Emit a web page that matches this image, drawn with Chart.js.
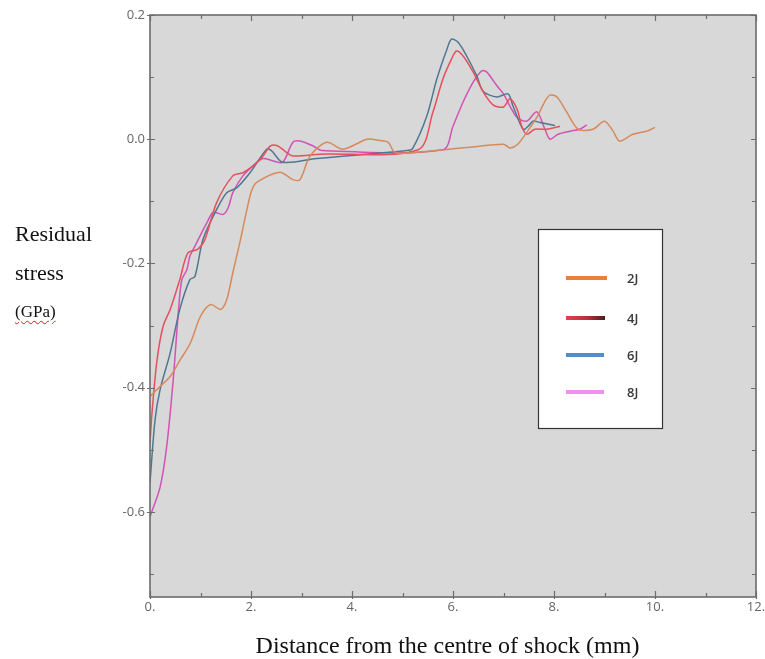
<!DOCTYPE html>
<html>
<head>
<meta charset="utf-8">
<script src="https://cdn.jsdelivr.net/npm/chart.js@4.4.0/dist/chart.umd.min.js"></script>
<style>
  html, body { margin: 0; padding: 0; background: #ffffff; }
  #wrap { position: relative; width: 765px; height: 659px; }
  #wrap canvas { position: absolute; left: 0; top: 0; }
  .ytitle { position: absolute; left: 15px; font-family: "Liberation Serif", "Times New Roman", serif; color: #111; white-space: nowrap; line-height: 1; }
  .xtitle { position: absolute; left: 0; width: 895px; text-align: center; top: 633px; font-family: "Liberation Serif", "Times New Roman", serif; font-size: 24px; color: #111; white-space: nowrap; line-height: 1; }
  .gpa { text-decoration: underline wavy #d02020; text-decoration-thickness: 1px; text-underline-offset: 3px; }
</style>
</head>
<body>
<div id="wrap">
  <canvas id="chart" width="765" height="659"></canvas>
  <div class="ytitle" style="top:223px;font-size:22px;">Residual</div>
  <div class="ytitle" style="top:262px;font-size:22px;">stress</div>
  <div class="ytitle" style="top:303px;font-size:17px;"><span class="gpa">(GPa)</span></div>
  <div class="xtitle">Distance from the centre of shock (mm)</div>
</div>
<script>
// ---- data ----
const seriesLabels = ["2J", "4J", "6J", "8J"];

const x2J = [0, 0.2, 0.4, 0.6, 0.8, 1.0, 1.2, 1.4, 1.52, 1.64, 1.78, 1.92, 2.02, 2.14, 2.57, 2.83, 2.97, 3.17, 3.5, 3.82, 4.3, 4.55, 4.72, 4.82, 4.95, 6.34, 7.0, 7.13, 7.27, 7.46, 7.66, 7.82, 7.92, 8.06, 8.25, 8.48, 8.77, 9.0, 9.17, 9.3, 9.56, 9.84, 10.0];
const y2J = [-0.414, -0.398, -0.382, -0.355, -0.328, -0.285, -0.266, -0.274, -0.258, -0.215, -0.166, -0.113, -0.081, -0.068, -0.053, -0.065, -0.065, -0.027, -0.005, -0.016, 0.0, -0.002, -0.005, -0.019, -0.023, -0.013, -0.008, -0.014, -0.009, 0.011, 0.035, 0.061, 0.071, 0.068, 0.044, 0.016, 0.016, 0.029, 0.013, -0.003, 0.008, 0.013, 0.019];

const x4J = [0, 0.04, 0.14, 0.26, 0.4, 0.59, 0.75, 0.95, 1.09, 1.32, 1.64, 1.84, 2.04, 2.24, 2.38, 2.51, 2.67, 2.83, 3.37, 5.31, 5.6, 5.8, 5.97, 6.07, 6.2, 6.4, 6.6, 6.8, 7.0, 7.13, 7.27, 7.36, 7.46, 7.62, 7.86, 8.12];
const y4J = [-0.489, -0.44, -0.355, -0.301, -0.274, -0.226, -0.183, -0.177, -0.161, -0.102, -0.059, -0.054, -0.043, -0.027, -0.011, -0.01, -0.019, -0.027, -0.024, -0.017, 0.043, 0.097, 0.129, 0.142, 0.134, 0.108, 0.076, 0.055, 0.052, 0.065, 0.048, 0.021, 0.008, 0.016, 0.016, 0.021];

const x6J = [0, 0.1, 0.2, 0.4, 0.59, 0.79, 0.89, 1.05, 1.32, 1.52, 1.72, 1.98, 2.31, 2.4, 2.63, 3.3, 5.09, 5.2, 5.48, 5.68, 5.88, 5.97, 6.1, 6.27, 6.47, 6.6, 6.87, 7.09, 7.19, 7.39, 7.49, 7.58, 7.72, 8.02];
const y6J = [-0.553, -0.452, -0.403, -0.344, -0.274, -0.226, -0.221, -0.161, -0.113, -0.086, -0.078, -0.054, -0.016, -0.018, -0.037, -0.031, -0.018, -0.015, 0.037, 0.097, 0.145, 0.161, 0.156, 0.134, 0.102, 0.077, 0.068, 0.073, 0.053, 0.016, 0.021, 0.029, 0.027, 0.022];

const x8J = [0, 0.2, 0.33, 0.46, 0.56, 0.63, 0.73, 0.79, 0.89, 1.13, 1.25, 1.45, 1.55, 1.64, 1.84, 2.08, 2.24, 2.44, 2.63, 2.83, 2.97, 3.23, 3.4, 5.8, 6.0, 6.2, 6.4, 6.57, 6.67, 6.87, 7.0, 7.13, 7.27, 7.46, 7.66, 7.82, 7.92, 8.08, 8.32, 8.51, 8.65];
const y8J = [-0.608, -0.56, -0.495, -0.387, -0.28, -0.226, -0.21, -0.188, -0.172, -0.134, -0.118, -0.121, -0.11, -0.086, -0.059, -0.04, -0.031, -0.035, -0.037, -0.005, -0.003, -0.011, -0.018, -0.017, 0.021, 0.06, 0.092, 0.11, 0.108, 0.086, 0.073, 0.053, 0.035, 0.029, 0.044, 0.016, 0.0, 0.008, 0.013, 0.016, 0.023];

const xTickValues = [0, 2, 4, 6, 8, 10, 12];
const xMinorTickValues = [1, 3, 5, 7, 9, 11];
const yTickValues = [0.2, 0.0, -0.2, -0.4, -0.6];
const yMinorTickValues = [0.1, -0.1, -0.3, -0.5, -0.7];

// ---- styles ----
const lineColors = ["#d68a5c", "#e5505c", "#4e7892", "#d352b6"];
const legendColors = ["#e97f38", "#e8404e", "#4f8fcf", "#f08ef0"];

function pts(xs, ys) { return xs.map((x, i) => ({ x: x, y: ys[i] })); }
const seriesData = [pts(x2J, y2J), pts(x4J, y4J), pts(x6J, y6J), pts(x8J, y8J)];

const frameColor = "#6c6c6c";

const framePlugin = {
  id: "framePlugin",
  beforeDraw(chart) {
    const a = chart.chartArea, c = chart.ctx;
    c.save();
    c.fillStyle = "#d8d8d8";
    c.fillRect(a.left, a.top, a.right - a.left, a.bottom - a.top);
    c.restore();
  },
  afterDraw(chart) {
    const a = chart.chartArea, c = chart.ctx;
    const xs = chart.scales.x, ys = chart.scales.y;
    c.save();
    c.strokeStyle = frameColor;
    c.lineWidth = 1.6;
    c.strokeRect(a.left, a.top, a.right - a.left, a.bottom - a.top);
    c.lineWidth = 1.2;
    c.beginPath();
    xTickValues.forEach(v => {
      const p = Math.round(xs.getPixelForValue(v)) + 0.5;
      c.moveTo(p, a.bottom + 2); c.lineTo(p, a.bottom - 6);
      c.moveTo(p, a.top); c.lineTo(p, a.top + 6);
    });
    xMinorTickValues.forEach(v => {
      const p = Math.round(xs.getPixelForValue(v)) + 0.5;
      c.moveTo(p, a.bottom); c.lineTo(p, a.bottom - 4);
      c.moveTo(p, a.top); c.lineTo(p, a.top + 4);
    });
    yTickValues.forEach(v => {
      const p = Math.round(ys.getPixelForValue(v)) + 0.5;
      c.moveTo(a.left - 3, p); c.lineTo(a.left + 5, p);
      c.moveTo(a.right, p); c.lineTo(a.right - 5, p);
    });
    yMinorTickValues.forEach(v => {
      const p = Math.round(ys.getPixelForValue(v)) + 0.5;
      c.moveTo(a.left, p); c.lineTo(a.left + 4, p);
      c.moveTo(a.right, p); c.lineTo(a.right - 4, p);
    });
    c.stroke();

    // legend box
    const bx = a.left + 388, by = a.top + 214, bw = 124, bh = 199;
    c.fillStyle = "#ffffff";
    c.fillRect(bx, by, bw, bh);
    c.strokeStyle = "#333333";
    c.lineWidth = 1.2;
    c.strokeRect(bx + 0.5, by + 0.5, bw, bh);
    const rowY = [49, 89, 126, 163];
    const lineLen = [41, 39, 38, 38];
    c.lineWidth = 4;
    c.lineCap = "butt";
    chart.data.datasets.forEach((ds, i) => {
      const y = by + rowY[i];
      const x0 = bx + 28, x1 = bx + 28 + lineLen[i];
      if (i === 1) {
        const g = c.createLinearGradient(x0, 0, x1, 0);
        g.addColorStop(0, "#ec3c4c");
        g.addColorStop(0.55, "#b8303c");
        g.addColorStop(1, "#4a1c20");
        c.strokeStyle = g;
      } else {
        c.strokeStyle = legendColors[i];
      }
      c.beginPath(); c.moveTo(x0, y); c.lineTo(x1, y); c.stroke();
      c.fillStyle = "#3a3a3a";
      c.font = "600 13px 'Open Sans', 'Noto Sans', sans-serif";
      c.textBaseline = "middle";
      c.textAlign = "left";
      c.fillText(ds.label, bx + 89, y + 1);
    });
    c.restore();
  }
};

new Chart(document.getElementById("chart"), {
  type: "line",
  data: {
    datasets: seriesLabels.map((lab, i) => ({
      label: lab,
      data: seriesData[i],
      borderColor: lineColors[i],
      backgroundColor: lineColors[i],
      borderWidth: 1.5,
      pointRadius: 0,
      tension: 0.3,
      fill: false
    }))
  },
  options: {
    responsive: false,
    animation: false,
    devicePixelRatio: 1,
    layout: { padding: { left: 0, right: 9, top: 15, bottom: 0 } },
    plugins: { legend: { display: false }, tooltip: { enabled: false } },
    scales: {
      x: {
        type: "linear",
        min: 0, max: 12,
        grid: { display: false, drawTicks: false },
        border: { display: false },
        afterBuildTicks: s => { s.ticks = xTickValues.map(v => ({ value: v })); },
        afterFit: s => { s.height = 62; s.paddingLeft = 0; s.paddingRight = 0; },
        ticks: {
          padding: 2,
          color: "#666666",
          font: { family: "'Open Sans', 'Liberation Sans', sans-serif", size: 13 },
          maxRotation: 0,
          callback: v => v + "."
        }
      },
      y: {
        type: "linear",
        min: -0.737, max: 0.2,
        grid: { display: false, drawTicks: false },
        border: { display: false },
        afterBuildTicks: s => { s.ticks = yTickValues.map(v => ({ value: v })); },
        afterFit: s => { s.width = 150; s.paddingTop = 0; s.paddingBottom = 0; },
        ticks: {
          padding: 5,
          color: "#666666",
          font: { family: "'Open Sans', 'Liberation Sans', sans-serif", size: 13 },
          callback: v => v.toFixed(1)
        }
      }
    }
  },
  plugins: [framePlugin]
});
</script>
</body>
</html>
